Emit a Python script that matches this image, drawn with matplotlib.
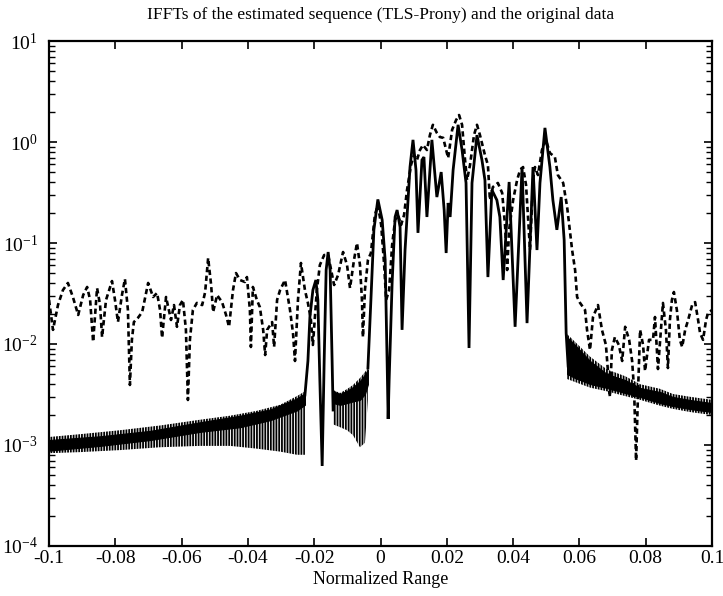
import matplotlib
matplotlib.use("Agg")
import matplotlib.pyplot as plt
from matplotlib.ticker import LogLocator, NullFormatter

plt.rcParams['font.family'] = ['Liberation Serif', 'DejaVu Serif']
plt.rcParams['mathtext.fontset'] = 'custom'
plt.rcParams['mathtext.rm'] = 'Liberation Serif'
plt.rcParams['mathtext.it'] = 'Liberation Serif:italic'
plt.rcParams['mathtext.bf'] = 'Liberation Serif:bold'
plt.rcParams['hatch.linewidth'] = 1.3

# ---- original data (dashed) ----
orig_x = [-0.1000, -0.0988, -0.0973, -0.0958, -0.0943, -0.0928, -0.0912, -0.0897, -0.0885, -0.0876,
          -0.0867, -0.0855, -0.0846, -0.0840, -0.0828, -0.0810, -0.0801, -0.0792, -0.0780, -0.0771,
          -0.0762, -0.0756, -0.0750, -0.0744, -0.0732, -0.0719, -0.0701, -0.0686, -0.0674, -0.0665,
          -0.0659, -0.0647, -0.0632, -0.0623, -0.0614, -0.0605, -0.0596, -0.0587, -0.0581, -0.0575,
          -0.0566, -0.0554, -0.0538, -0.0529, -0.0520, -0.0511, -0.0505, -0.0493, -0.0478, -0.0466,
          -0.0457, -0.0445, -0.0436, -0.0424, -0.0409, -0.0403, -0.0394, -0.0391, -0.0385, -0.0373,
          -0.0364, -0.0354, -0.0348, -0.0342, -0.0327, -0.0321, -0.0312, -0.0303, -0.0288, -0.0273,
          -0.0264, -0.0258, -0.0249, -0.0240, -0.0228, -0.0219, -0.0210, -0.0204, -0.0192, -0.0183,
          -0.0170, -0.0158, -0.0149, -0.0140, -0.0128, -0.0113, -0.0101, -0.0092, -0.0080, -0.0071,
          -0.0062, -0.0056, -0.0053, -0.0047, -0.0038, -0.0029, -0.0017, -0.0008, 0.0002, 0.0011,
          0.0017, 0.0026, 0.0035, 0.0044, 0.0053, 0.0062, 0.0071, 0.0080, 0.0092, 0.0101,
          0.0110, 0.0119, 0.0128, 0.0140, 0.0149, 0.0158, 0.0170, 0.0179, 0.0189, 0.0198,
          0.0204, 0.0216, 0.0228, 0.0237, 0.0246, 0.0255, 0.0261, 0.0270, 0.0282, 0.0291,
          0.0300, 0.0315, 0.0324, 0.0330, 0.0339, 0.0354, 0.0367, 0.0376, 0.0382, 0.0388,
          0.0400, 0.0412, 0.0421, 0.0430, 0.0439, 0.0451, 0.0460, 0.0466, 0.0475, 0.0487,
          0.0499, 0.0511, 0.0526, 0.0535, 0.0551, 0.0563, 0.0578, 0.0587, 0.0593, 0.0602,
          0.0617, 0.0623, 0.0632, 0.0641, 0.0656, 0.0668, 0.0680, 0.0692, 0.0698, 0.0707,
          0.0719, 0.0729, 0.0738, 0.0750, 0.0759, 0.0765, 0.0771, 0.0777, 0.0783, 0.0792,
          0.0798, 0.0810, 0.0822, 0.0828, 0.0837, 0.0846, 0.0852, 0.0861, 0.0867, 0.0873,
          0.0879, 0.0885, 0.0894, 0.0903, 0.0910, 0.0919, 0.0928, 0.0940, 0.0949, 0.0958,
          0.0964, 0.0973, 0.0982, 0.0988, 0.1000]
orig_y = [0.0273, 0.0138, 0.0243, 0.0342, 0.0402, 0.0292, 0.0194, 0.0305, 0.0367, 0.0273,
          0.0105, 0.0358, 0.0243, 0.0117, 0.0273, 0.0420, 0.0273, 0.0165, 0.0305, 0.0440,
          0.0217, 0.00393, 0.0110, 0.0165, 0.0181, 0.0207, 0.0402, 0.0292, 0.0320, 0.0217,
          0.0115, 0.0292, 0.0173, 0.0243, 0.0148, 0.0243, 0.0273, 0.0138, 0.00279, 0.0110,
          0.0217, 0.0255, 0.0243, 0.0327, 0.0710, 0.0384, 0.0207, 0.0305, 0.0260, 0.0194,
          0.0148, 0.0342, 0.0504, 0.0430, 0.0411, 0.0460, 0.0217, 0.00934, 0.0367, 0.0273,
          0.0232, 0.0138, 0.00778, 0.0138, 0.0165, 0.00934, 0.0273, 0.0342, 0.0430, 0.0217,
          0.0128, 0.00679, 0.0273, 0.0634, 0.0342, 0.0255, 0.0173, 0.00978, 0.0342, 0.0605,
          0.0760, 0.0760, 0.0540, 0.0384, 0.0482, 0.0814, 0.0605, 0.0358, 0.0679, 0.100,
          0.0605, 0.0273, 0.0117, 0.0342, 0.0679, 0.0796, 0.189, 0.238, 0.151, 0.0605,
          0.0273, 0.0342, 0.0955, 0.169, 0.189, 0.151, 0.189, 0.335, 0.592, 0.743,
          0.663, 0.833, 0.934, 0.833, 1.17, 1.48, 1.23, 1.12, 1.10, 0.833,
          0.694, 1.32, 1.65, 1.85, 1.48, 0.663, 0.420, 0.592, 1.17, 1.48,
          1.17, 0.743, 0.592, 0.266, 0.358, 0.393, 0.313, 0.144, 0.0540, 0.135,
          0.266, 0.420, 0.528, 0.565, 0.375, 0.0852, 0.420, 0.565, 0.471, 0.833,
          1.05, 0.778, 0.710, 0.471, 0.393, 0.227, 0.0852, 0.0540, 0.0292, 0.0255,
          0.0217, 0.0138, 0.00872, 0.0185, 0.0243, 0.0138, 0.00978, 0.00299, 0.00872, 0.0117,
          0.00978, 0.00679, 0.0148, 0.0110, 0.00679, 0.00350, 0.00070, 0.00350, 0.0138, 0.00978,
          0.00540, 0.0110, 0.0110, 0.0185, 0.00565, 0.0138, 0.0255, 0.0138, 0.00578, 0.0173,
          0.0273, 0.0327, 0.0217, 0.0110, 0.00934, 0.0138, 0.0173, 0.0243, 0.0260, 0.0173,
          0.0128, 0.0110, 0.0173, 0.0203, 0.0217]

# ---- TLS-Prony estimate (solid), structured part ----
est_x = [-0.0228, -0.0219, -0.0213, -0.0204, -0.0195, -0.0189, -0.0183, -0.0176, -0.0170, -0.0164,
         -0.0158, -0.0152, -0.0146, -0.0143]
est_y = [0.00313, 0.00679, 0.0185, 0.0342, 0.0430, 0.0273, 0.00440, 0.000620, 0.00679, 0.0540,
         0.0814, 0.0540, 0.00679, 0.00222]
est2_x = [-0.0038, -0.0029, -0.0020, -0.0008, 0.0005, 0.0014, 0.0020, 0.0023, 0.0026, 0.0035,
          0.0044, 0.0050, 0.0059, 0.0065, 0.0074, 0.0089, 0.0098, 0.0107, 0.0113, 0.0125,
          0.0131, 0.0140, 0.0155, 0.0170, 0.0183, 0.0192, 0.0198, 0.0204, 0.0210, 0.0219,
          0.0234, 0.0246, 0.0258, 0.0267, 0.0276, 0.0291, 0.0306, 0.0315, 0.0324, 0.0336,
          0.0351, 0.0360, 0.0370, 0.0388, 0.0406, 0.0427, 0.0442, 0.0460, 0.0472, 0.0481,
          0.0496, 0.0511, 0.0520, 0.0532, 0.0545, 0.0554, 0.0560, 0.0566]
est2_y = [0.00578, 0.0273, 0.135, 0.270, 0.169, 0.0679, 0.00648, 0.00181, 0.00440, 0.0402,
          0.181, 0.212, 0.144, 0.0138, 0.0852, 0.565, 1.05, 0.528, 0.126, 0.663,
          0.710, 0.181, 1.05, 0.285, 0.504, 0.212, 0.0796, 0.249, 0.181, 0.528,
          1.48, 0.833, 0.393, 0.00913, 0.393, 1.17, 0.663, 0.420, 0.0460, 0.335,
          0.266, 0.181, 0.0430, 0.402, 0.0148, 0.565, 0.0161, 0.565, 0.0852, 0.393,
          1.38, 0.565, 0.266, 0.135, 0.285, 0.107, 0.0128, 0.00605]

# ---- fast-oscillation bands of the estimate (envelopes) ----
band_l_x = [-0.1000, -0.0906, -0.0786, -0.0665, -0.0544, -0.0454, -0.0373, -0.0303, -0.0252, -0.0228]
band_l_hi = [0.00120, 0.00128, 0.00140, 0.00156, 0.00178, 0.00195, 0.00218, 0.00250, 0.00305, 0.00340]
band_l_lo = [0.000830, 0.000850, 0.000890, 0.000950, 0.00098, 0.00098, 0.00092, 0.00086, 0.00080, 0.00080]
core_l_x = [-0.1000, -0.0846, -0.0695, -0.0544, -0.0424, -0.0333, -0.0252, -0.0228]
core_l_hi = [0.00112, 0.00122, 0.00138, 0.00168, 0.00195, 0.00225, 0.00290, 0.00325]
core_l_lo = [0.000880, 0.000980, 0.00112, 0.00135, 0.00150, 0.00176, 0.00220, 0.00250]

band_m_x = [-0.0143, -0.0122, -0.0101, -0.0083, -0.0062, -0.0047, -0.0038]
band_m_hi = [0.00350, 0.00327, 0.00358, 0.00393, 0.00460, 0.00528, 0.00578]
band_m_lo = [0.00160, 0.00150, 0.00140, 0.00125, 0.00095, 0.00105, 0.00279]
core_m_x = [-0.0143, -0.0122, -0.0101, -0.0083, -0.0062, -0.0047, -0.0038]
core_m_hi = [0.00340, 0.00320, 0.00345, 0.00375, 0.00430, 0.00500, 0.00560]
core_m_lo = [0.00260, 0.00250, 0.00260, 0.00270, 0.00280, 0.00320, 0.00400]

band_r_x = [0.0563, 0.0587, 0.0632, 0.0683, 0.0738, 0.0783, 0.0843, 0.0882, 0.0934, 0.1000]
band_r_hi = [0.0117, 0.00978, 0.00679, 0.00504, 0.00440, 0.00367, 0.00335, 0.00299, 0.00279, 0.00260]
band_r_lo = [0.00504, 0.00460, 0.00402, 0.00367, 0.00327, 0.00299, 0.00260, 0.00243, 0.00227, 0.00212]
edge_r_hi = [0.0125, 0.0105, 0.0075, 0.0056, 0.0048, 0.0040, 0.0036, 0.0032, 0.0030, 0.0028]
edge_r_lo = [0.00450, 0.00420, 0.00370, 0.00340, 0.00305, 0.00280, 0.00245, 0.00228, 0.00212, 0.00198]

x_ticks = [-0.1, -0.08, -0.06, -0.04, -0.02, 0, 0.02, 0.04, 0.06, 0.08, 0.1]
x_ticklabels = ['-0.1', '-0.08', '-0.06', '-0.04', '-0.02', '0', '0.02', '0.04', '0.06', '0.08', '0.1']

fig = plt.figure(figsize=(7.23, 5.96), dpi=100)
ax = fig.add_axes([0.0678, 0.0839, 0.9170, 0.8473])
ax.set_yscale('log')
ax.set_xlim(-0.1, 0.1)
ax.set_ylim(1e-4, 10)

# bands (hatched vertical oscillation + dense core)
ax.fill_between(band_l_x, band_l_lo, band_l_hi, facecolor='none', edgecolor='black',
                hatch='||||||', linewidth=0)
ax.fill_between(core_l_x, core_l_lo, core_l_hi, facecolor='black', edgecolor='black', linewidth=0.8)
ax.fill_between(band_m_x, band_m_lo, band_m_hi, facecolor='none', edgecolor='black',
                hatch='||||||', linewidth=0)
ax.fill_between(core_m_x, core_m_lo, core_m_hi, facecolor='black', edgecolor='black', linewidth=0.8)
ax.fill_between(band_r_x, edge_r_lo, edge_r_hi, facecolor='none', edgecolor='black',
                hatch='||||||', linewidth=0)
ax.fill_between(band_r_x, band_r_lo, band_r_hi, facecolor='black', edgecolor='black', linewidth=0.8)

ax.plot(est_x, est_y, color='black', lw=2.0, solid_joinstyle='miter')
ax.plot(est2_x, est2_y, color='black', lw=2.0, solid_joinstyle='miter')
ax.plot(orig_x, orig_y, color='black', lw=1.9, linestyle=(0, (2.0, 1.3)))

ax.set_xticks(x_ticks)
ax.set_xticklabels(x_ticklabels)
ax.yaxis.set_major_locator(LogLocator(base=10, numticks=10))
ax.yaxis.set_minor_locator(LogLocator(base=10, subs=[2, 3, 4, 5, 6, 7, 8, 9], numticks=20))
ax.yaxis.set_minor_formatter(NullFormatter())

ax.tick_params(axis='both', which='major', direction='in', top=True, right=True,
               length=6, width=1.2, labelsize=14, pad=3)
ax.tick_params(axis='y', which='minor', direction='in', left=True, right=True, length=4, width=1.0)
ax.tick_params(axis='y', which='major', pad=8)
for s in ax.spines.values():
    s.set_linewidth(1.6)

ax.set_title('IFFTs of the estimated sequence (TLS-Prony) and the original data',
             fontsize=12.5, pad=16)
ax.set_xlabel('Normalized Range', fontsize=13, labelpad=3)

fig.savefig('out.png', dpi=100)
